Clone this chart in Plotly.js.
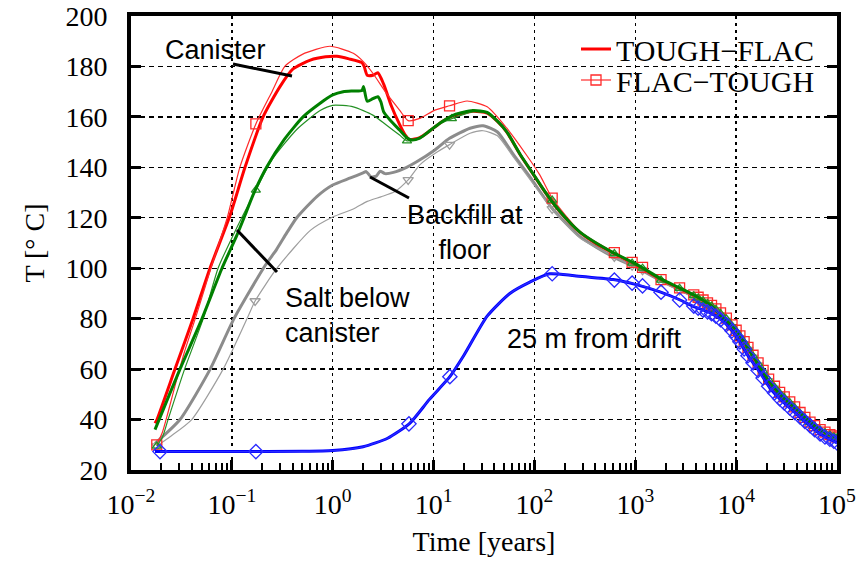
<!DOCTYPE html>
<html>
<head>
<meta charset="utf-8">
<script src="https://cdn.plot.ly/plotly-3.0.1.min.js"></script>
<style>html,body{margin:0;padding:0;background:#fff}#chart{width:862px;height:565px}</style>
</head>
<body>
<div id="chart"></div>
<script>
// ---------------- data (time in years, temperature in °C) ----------------
const redTF_t = [0.0173,0.0181,0.0273,0.0412,0.0607,0.096,0.135,0.204,0.3,0.404,0.6,0.85,1.1,1.45,1.95,2.05,2.2,2.5,2.8,3.2,3.8,4.6,5.2,5.8,7.3,9.2,12,16,24.5,34,43,53,72,96,131,178,283,417,604,1000,1800,2750,3900,5800,7400,10000,13000,16100,20000,25000,31000,40000,50000,63000,80000,100000];
const redTF_T = [38.5,40,60,80,100,121,140,160,172,179,182.5,183.8,184,183,181.5,180,176.5,176.5,177.5,173,164.5,157,153,151,151.8,154.5,158,160.6,162.2,161.5,158.2,154.1,145.1,137.6,129.5,122.5,114.2,109.5,106,101.5,95.5,92,89,84.7,80.2,75.5,68.5,62.5,56.5,51.5,47.8,43.8,40.2,36.8,34.3,32.8];

const greenTF_t = [0.0173,0.019,0.0306,0.0506,0.0798,0.112,0.135,0.162,0.221,0.33,0.508,0.75,1.0,1.27,1.6,1.95,2.02,2.2,2.5,2.8,3.0,3.2,3.7,4.6,5.5,6.1,7.3,9.2,12,16,24.5,34,43,53,72,96,131,178,283,417,604,1000,1800,2750,3900,5800,7400,10000,13000,16100,20000,25000,31000,40000,50000,63000,80000,100000];
const greenTF_T = [36,40,60,80,100,113,121,129,140,151,160,165.4,168.7,170,170.3,170.5,172,166.2,167.2,168,166,162,158.8,154.8,151.5,150.8,151.6,154.5,158,160.8,162.5,161.8,158.3,154.2,145.2,137.7,129.6,122.6,114.3,109.8,106.2,101.8,95.8,92.2,89.2,84.8,80.3,75.6,68.6,62.6,56.6,51.6,47.9,43.9,40.3,36.9,34.4,32.9];

const grayTF_t = [0.0173,0.0306,0.061,0.105,0.213,0.278,0.35,0.44,0.7,1.0,1.5,2.0,2.15,2.4,2.7,2.95,3.3,4.0,5.4,6.8,10.3,14.4,23,31,43,62,91,148,283,604,1000,1800,2750,3900,5800,7400,10000,13000,16100,20000,25000,31000,40000,50000,63000,80000,100000];
const grayTF_T = [30.5,40,60,80,101,107.5,114,120,128.5,133,135.8,137.8,138.3,136.2,136.5,138.5,137.5,138,140,142.2,146.9,151.5,155.5,156.5,154,145,136,124,112.5,104.5,100.5,95,91.5,88.5,84,79.5,74.5,67.5,62,56,51,47,43,39.5,36,33.5,32];

const blueTF_t = [0.0173,0.1,0.5,1.0,2.0,3.5,5.8,9.1,14.5,20,34,57,90,141,250,604,1000,1760,2750,3700,5600,7100,9000,10900,13100,17000,21600,27000,34000,43000,54000,68000,85000,100000];
const blueTF_T = [27.3,27.3,27.4,27.7,29.2,32.6,38.5,48,57,65.5,81,90,94.5,97.8,97,95.5,93.6,90.6,87.5,85,82.2,79.6,75.5,70.8,65.3,59,52.5,48.3,44.6,41,37.6,34.3,32.2,30.7];

// FLAC-TOUGH curves: early part and the (shared-time) late part
const tailT = [620,930,1180,1800,2750,3800,4200,4700,5200,5700,6300,7000,8000,9100,10000,10900,12000,13100,14700,16500,18500,21000,24000,27000,30000,34000,38000,43000,48000,54000,60000,68000,76000,85000,93000,100000];

const redFT_t = [0.018,0.0205,0.023,0.028,0.034,0.045,0.063,0.09,0.12,0.173,0.25,0.335,0.5,0.94,1.6,2.0,2.5,3.4,4.6,5.6,7.3,10.3,14.4,21.5,34,53,83,113,150,283].concat(tailT);
const redFT_T = [30,35,42,55,67,82,101,120,140,157.2,170,180,184.8,188,185.2,182,177.3,169.4,162.7,158.5,159.4,162.7,164.4,166.3,164,155.6,145,137,127.8,114.5,
  106.2,102.3,100.3,95.5,92.2,89.4,88.5,87.4,86.3,85.3,83.9,82.3,80.2,77.5,75.4,73.2,70.9,68.6,65.5,62.5,59.5,56,53.2,50.8,49,47,45,42.8,40.9,39,37.6,36,35,34,33.5,33];

const greenFT_t = [0.018,0.0205,0.0233,0.034,0.052,0.073,0.1,0.173,0.25,0.44,0.75,1.0,1.6,2.5,3.4,4.6,5.45,7.3,10.3,15.2,24.5,34,53,96,150,283].concat(tailT);
const greenFT_T = [29.5,33,40,60,80,100,112,131,143,155,162.5,164.6,164,160.7,156.8,152.8,150.5,151.8,156.3,159.3,162,161.5,154,137.5,127,114,
  105.8,102,100,95.3,92,89.1,88.2,87.1,86,85,83.6,82,79.9,77.2,75.1,73,70.6,68.3,65.2,62.2,59.2,55.8,52.9,50.5,48.7,46.7,44.7,42.5,40.6,38.8,37.3,35.8,34.7,33.8,33.2,32.8];

const grayFT_t = [0.018,0.025,0.04,0.082,0.145,0.17,0.28,0.6,1.0,1.6,2.2,3.0,4.1,5.6,7.3,10.3,14.4,23,31,43,62,91,150,283].concat(tailT);
const grayFT_T = [29.5,33.5,40,60,81,87,100,115,120.3,123.5,126.5,128.3,130.3,135,141,145.5,149,153.5,154.5,152.5,144,135,123.5,112,
  104.5,101,99.2,94.6,91.2,88.4,87.5,86.4,85.3,84.3,82.9,81.3,79.2,76.5,74.4,72.3,70,67.7,64.6,61.6,58.7,55.3,52.4,50,48.2,46.2,44.2,42.1,40.1,38.4,36.8,35.4,34.2,33.4,32.8,32.4];

const blueFT_t = [0.0194,0.173,1.0,2.0,3.5,5.7,9.1,14.5,20,34,57,90,150,250].concat(tailT);
const blueFT_T = [27.3,27.3,27.7,29.2,32.6,38.3,48,57,65.5,81,90,94.5,97.8,97,
  95.3,94.1,93,90.5,87.4,85,84.2,83.4,82.7,82,81,79.6,77.7,75.2,73,70.8,68,65.3,62.5,59.5,56.5,53.2,50.6,48.3,46.6,44.6,42.8,41,39.3,37.6,36,34.3,33.1,32.2,31.4,30.7];

// times at which the FLAC-TOUGH curves carry a marker symbol
const redFT_markT = [0.018,0.173,5.6,14.4,150].concat(tailT);
const greenFT_markT = [0.018,0.173,5.45,15.2,150].concat(tailT);
const grayFT_markT = [0.018,0.17,5.6,14.4,150].concat(tailT);
const blueFT_markT = [0.0194,0.173,5.7,14.5,150].concat(tailT);

// axis ticks and labels
const xTickVals = [0.01,0.1,1,10,100,1000,10000,100000];
const xTickText = ['10<sup>−2</sup>','10<sup>−1</sup>','10<sup>0</sup>','10<sup>1</sup>','10<sup>2</sup>','10<sup>3</sup>','10<sup>4</sup>','10<sup>5</sup>'];
const xMinorVals = [];
for (let e = -2; e < 5; e++) for (let m = 2; m <= 9; m++) xMinorVals.push(m * Math.pow(10, e));

// ---------------- drawing ----------------
const SERIF = 'Liberation Serif, Times New Roman, serif';
const SANS = 'Liberation Sans, Arial, sans-serif';
const NONE = 'rgba(0,0,0,0)';
function markColors(ts, marks, color) { return ts.map(v => marks.indexOf(v) >= 0 ? color : NONE); }
function thick(ts, Ts, color, extra) {
  return Object.assign({x: ts, y: Ts, type: 'scatter', mode: 'lines', showlegend: false,
    line: {color: color, width: 3, shape: 'spline', smoothing: 0.6}, hoverinfo: 'skip'}, extra || {});
}
function thin(ts, Ts, marks, color, symbol, size, extra) {
  return Object.assign({x: ts, y: Ts, type: 'scatter', mode: 'lines+markers', showlegend: false,
    line: {color: color, width: 1.2, shape: 'spline', smoothing: 0.6},
    marker: {symbol: symbol, size: size, color: markColors(ts, marks, color), line: {width: 1.3}},
    hoverinfo: 'skip'}, extra || {});
}

const traces = [
  thick(grayTF_t, grayTF_T, '#8c8c8c'),
  thin(grayFT_t, grayFT_T, grayFT_markT, '#9e9e9e', 'triangle-down-open', 9),
  thick(redTF_t, redTF_T, '#ff0000', {name: 'TOUGH−FLAC', showlegend: true, legend: 'legend'}),
  thin(redFT_t, redFT_T, redFT_markT, '#ff2a2a', 'square-open', 10, {name: 'FLAC−TOUGH', showlegend: true, legend: 'legend2'}),
  thin(greenFT_t, greenFT_T, greenFT_markT, '#259125', 'triangle-up-open', 8),
  thick(greenTF_t, greenTF_T, '#008000'),
  thick(blueTF_t, blueTF_T, '#0000ff'),
  thin(blueFT_t, blueFT_T, blueFT_markT, '#2a2aff', 'diamond-open', 11)
];

const L = 131, R = 837, T = 16, B = 470;
const px = v => (v - L) / (R - L);
const py = v => (B - v) / (B - T);

const legendCommon = {xref: 'paper', yref: 'paper', xanchor: 'left', yanchor: 'middle',
  bgcolor: 'rgba(0,0,0,0)', borderwidth: 0, font: {family: SERIF, size: 30, color: 'black'}};

const layout = {
  width: 862, height: 565,
  margin: {l: L, r: 862 - R, t: T, b: 565 - B},
  paper_bgcolor: 'white', plot_bgcolor: 'white',
  showlegend: true,
  legend: Object.assign({x: px(576), y: py(49)}, legendCommon),
  legend2: Object.assign({x: px(576), y: py(80)}, legendCommon),
  xaxis: {
    type: 'log', range: [-2, 5], tickmode: 'array', tickvals: xTickVals, ticktext: xTickText,
    ticks: 'inside', ticklen: 10, tickwidth: 3, tickcolor: 'black',
    showline: true, linewidth: 4, linecolor: 'black', mirror: true,
    showgrid: true, gridcolor: 'black', gridwidth: 1.3, griddash: '3px,4px', zeroline: false,
    minor: {tickmode: 'array', tickvals: xMinorVals, ticks: 'inside', ticklen: 7, tickwidth: 2, tickcolor: 'black', showgrid: false},
    tickfont: {family: SERIF, size: 28, color: 'black'}, ticklabelstandoff: 6,
    title: {text: 'Time [years]', font: {family: SERIF, size: 28, color: 'black'}, standoff: 14},
    fixedrange: true
  },
  yaxis: {
    range: [20, 200], tickmode: 'linear', tick0: 20, dtick: 20,
    ticks: 'inside', ticklen: 10, tickwidth: 3, tickcolor: 'black',
    showline: true, linewidth: 4, linecolor: 'black', mirror: 'ticks',
    showgrid: true, gridcolor: 'black', gridwidth: 1.3, griddash: '5px,4px', zeroline: false,
    tickfont: {family: SERIF, size: 28, color: 'black'}, ticklabelstandoff: 14,
    title: {text: 'T [° C]', font: {family: SERIF, size: 28, color: 'black'}, standoff: 14},
    fixedrange: true
  },
  shapes: [
    // white label backgrounds hiding the grid (under the curves)
    {type: 'rect', xref: 'paper', yref: 'paper', x0: 0, x1: px(232), y0: py(70), y1: 1,
     fillcolor: 'white', line: {width: 0}, layer: 'between'},
    {type: 'rect', xref: 'paper', yref: 'paper', x0: px(543), x1: 1, y0: py(97), y1: py(32),
     fillcolor: 'white', line: {width: 0}, layer: 'between'},
    // pointer lines of the labels
    {type: 'line', xref: 'paper', yref: 'paper', x0: px(233), y0: py(64), x1: px(292), y1: py(76), line: {color: 'black', width: 3}},
    {type: 'line', xref: 'paper', yref: 'paper', x0: px(237), y0: py(230), x1: px(277), y1: py(272), line: {color: 'black', width: 3}},
    {type: 'line', xref: 'paper', yref: 'paper', x0: px(370), y0: py(177), x1: px(409), y1: py(198), line: {color: 'black', width: 3}}
  ],
  annotations: [
    {text: 'Canister', xref: 'paper', yref: 'paper', x: px(163), y: py(50), xanchor: 'left', yanchor: 'middle', showarrow: false, font: {family: SANS, size: 27, color: 'black'}},
    {text: 'Backfill at<br>floor', xref: 'paper', yref: 'paper', x: px(465), y: py(232), xanchor: 'center', yanchor: 'middle', align: 'center', showarrow: false, font: {family: SANS, size: 27, color: 'black'}},
    {text: 'Salt below<br>canister', xref: 'paper', yref: 'paper', x: px(283), y: py(315), xanchor: 'left', yanchor: 'middle', align: 'left', showarrow: false, font: {family: SANS, size: 27, color: 'black'}},
    {text: '25 m from drift', xref: 'paper', yref: 'paper', x: px(505), y: py(339), xanchor: 'left', yanchor: 'middle', showarrow: false, font: {family: SANS, size: 27, color: 'black'}}
  ]
};

Plotly.newPlot('chart', traces, layout, {displayModeBar: false, staticPlot: true});
</script>
</body>
</html>
